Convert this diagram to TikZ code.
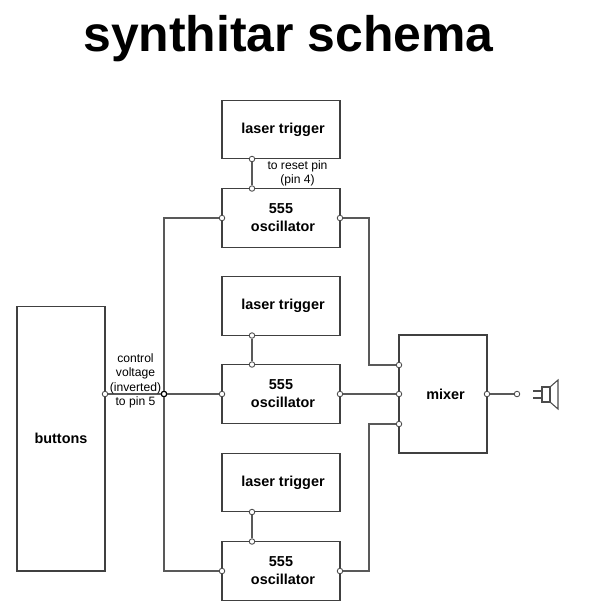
\documentclass[tikz,border=0pt]{standalone}
\usepackage{fontspec}
\setmainfont{Liberation Sans}
\usetikzlibrary{positioning, calc}

\tikzset{
  block/.style={draw=black!75, line width=0.6pt, inner sep=0pt, align=center, font=\fontsize{8.2}{10.2}\selectfont\bfseries},
  pin dot/.style={circle, draw=black!70, fill=white, line width=0.5pt, inner sep=0pt, minimum size=0.11cm},
  wire/.style={draw=black!65, line width=0.75pt},
  note/.style={align=center, inner sep=0pt, font=\fontsize{6.9}{8}\selectfont}
}

\begin{document}
\begin{tikzpicture}[x=0.02cm, y=-0.02cm]
  \useasboundingbox (0,0) rectangle (593,613);

  \node[inner sep=0pt, font=\fontsize{28.4}{30}\selectfont\bfseries] (title) at (288.5,39) {synthitar schema};

  % three oscillator stacks
  \foreach \n/\ytrig/\yosc in {1/129.5/218, 2/306/394, 3/482.5/571} {
    \node[block, minimum width=2.36cm, minimum height=1.17cm] (trig\n) at (281,\ytrig) {\hspace*{0.08cm}laser trigger};
    \node[block, minimum width=2.36cm, minimum height=1.17cm] (osc\n) at (281,\yosc) {555\\\hspace*{0.08cm}oscillator};
    \node[pin dot] (trigpin\n) at (252,\ytrig+29.5) {};
    \node[pin dot] (resetpin\n) at (252,\yosc-29.5) {};
    \node[pin dot] (cvpin\n) at (222,\yosc) {};
    \node[pin dot] (outpin\n) at (340,\yosc) {};
    \draw[wire] (trigpin\n) -- (resetpin\n);
  }

  \node[block, minimum width=1.76cm, minimum height=5.3cm] (buttons) at (61,438.5) {buttons};
  \node[block, minimum width=1.76cm, minimum height=2.36cm] (mixer) at (443,394) {\hspace*{0.1cm}mixer};

  \node[pin dot] (btnpin) at (105,394) {};
  \node[pin dot, draw=black, line width=0.7pt] (cvjoin) at (164,394) {};
  \node[pin dot] (mixin1) at (399,365) {};
  \node[pin dot] (mixin2) at (399,394) {};
  \node[pin dot] (mixin3) at (399,424) {};
  \node[pin dot] (mixout) at (487,394) {};
  \node[pin dot] (spkpin) at (517,394) {};

  \draw[wire] (btnpin) -- (cvjoin);
  \draw[wire] (cvjoin) -- (cvpin2);
  \draw[wire] (cvjoin) |- (cvpin1);
  \draw[wire] (cvjoin) |- (cvpin3);
  \draw[wire] (outpin2) -- (mixin2);
  \draw[wire] (outpin1) -- ++(29,0) |- (mixin1);
  \draw[wire] (outpin3) -- ++(29,0) |- (mixin3);
  \draw[wire] (mixout) -- (spkpin);

  \node[note] (resetnote) at (297.5,173) {to reset pin\\(pin 4)};
  \node[note, font=\fontsize{6.9}{8.15}\selectfont] (cvnote) at (135.5,381) {control\\voltage\\(inverted)\\to pin 5};

  % speaker
  \draw[draw=black!70, line width=0.6pt] (533,391) -- (542,391) (533,398) -- (542,398);
  \draw[draw=black!70, line width=0.6pt] (542,387) rectangle (550,402);
  \draw[draw=black!70, line width=0.6pt] (550,387) -- (558,380) -- (558,409) -- (550,402);
\end{tikzpicture}
\end{document}
